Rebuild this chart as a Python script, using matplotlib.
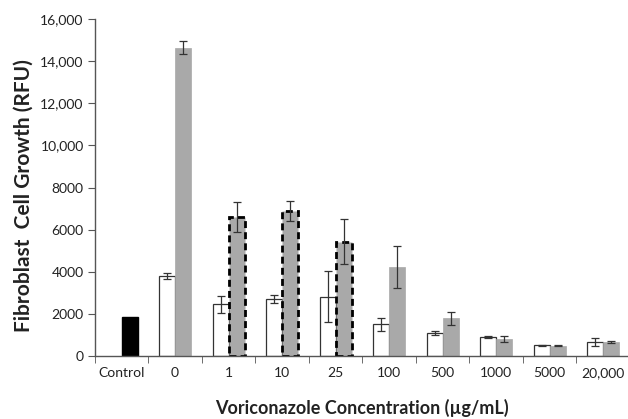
import matplotlib
matplotlib.use("Agg")
import matplotlib.pyplot as plt
import numpy as np

categories = ["Control", "0", "1", "10", "25", "100", "500", "1000", "5000", "20,000"]
white_vals = [np.nan, 3800, 2470, 2720, 2820, 1520, 1110, 920, 520, 680]
white_err = [np.nan, 130, 400, 180, 1220, 310, 100, 50, 20, 190]
gray_vals = [1850, 14640, 6590, 6900, 5430, 4210, 1800, 810, 500, 665]
gray_err = [np.nan, 330, 700, 470, 1060, 1000, 300, 150, 20, 60]
dashed_cats = ["1", "10", "25"]
ytick_vals = [0, 2000, 4000, 6000, 8000, 10000, 12000, 14000, 16000]
ytick_labels = ["0", "2000", "4000", "6000", "8000", "10,000", "12,000", "14,000", "16,000"]

plt.rcParams['font.family'] = ['Lato', 'DejaVu Sans']

fig = plt.figure(figsize=(6.28, 4.19), dpi=100)
ax = fig.add_axes([0.151, 0.150, 0.852, 0.805])

x = np.arange(len(categories))
w = 0.30
txtc = "#222222"
axc = "#555555"

# white bars
ax.bar(x - w/2, white_vals, width=w, color="white", edgecolor="#333333", linewidth=0.9, zorder=2)
ax.errorbar(x - w/2, white_vals, yerr=white_err, fmt="none", ecolor="#333333",
            elinewidth=0.9, capsize=3, capthick=0.9, zorder=3)

# gray / control bars
for i, c in enumerate(categories):
    if c == "Control":
        ax.bar(x[i] + w/2, gray_vals[i], width=w, color="black", edgecolor="black", zorder=2)
    elif c in dashed_cats:
        ax.bar(x[i] + w/2, gray_vals[i], width=w, color="#a9a9a9", edgecolor="black",
               linewidth=2.0, linestyle=(0, (2.5, 1.5)), zorder=2)
    else:
        ax.bar(x[i] + w/2, gray_vals[i], width=w, color="#a9a9a9", edgecolor="#a9a9a9",
               linewidth=0.5, zorder=2)
ax.errorbar(x + w/2, gray_vals, yerr=gray_err, fmt="none", ecolor="#333333",
            elinewidth=0.9, capsize=3, capthick=0.9, zorder=3)

ax.set_xlim(-0.5, len(categories) - 0.5)
ax.set_ylim(0, 16000)
ax.set_yticks(ytick_vals)
ax.set_yticklabels(ytick_labels, fontsize=10, color=txtc)
ax.set_xticks(x)
ax.set_xticklabels(categories, fontsize=10, color=txtc)
ax.tick_params(axis="x", length=0, pad=8)
ax.set_xticks(np.arange(-0.5, len(categories), 1.0), minor=True)
ax.tick_params(axis="x", which="minor", length=5, direction="out", color=axc)
ax.tick_params(axis="y", length=5, direction="out", color=axc, pad=3)

for s in ["top", "right"]:
    ax.spines[s].set_visible(False)
for s in ["left", "bottom"]:
    ax.spines[s].set_color(axc)
    ax.spines[s].set_linewidth(1.0)

ax.set_ylabel("Fibroblast  Cell Growth (RFU)", fontsize=15, fontweight="bold", color=txtc)
ax.yaxis.set_label_coords(-0.115, 0.475)
ax.set_xlabel("Voriconazole Concentration (µg/mL)", fontsize=13, fontweight="bold", color=txtc, labelpad=14)

fig.savefig("out.png", dpi=100)
